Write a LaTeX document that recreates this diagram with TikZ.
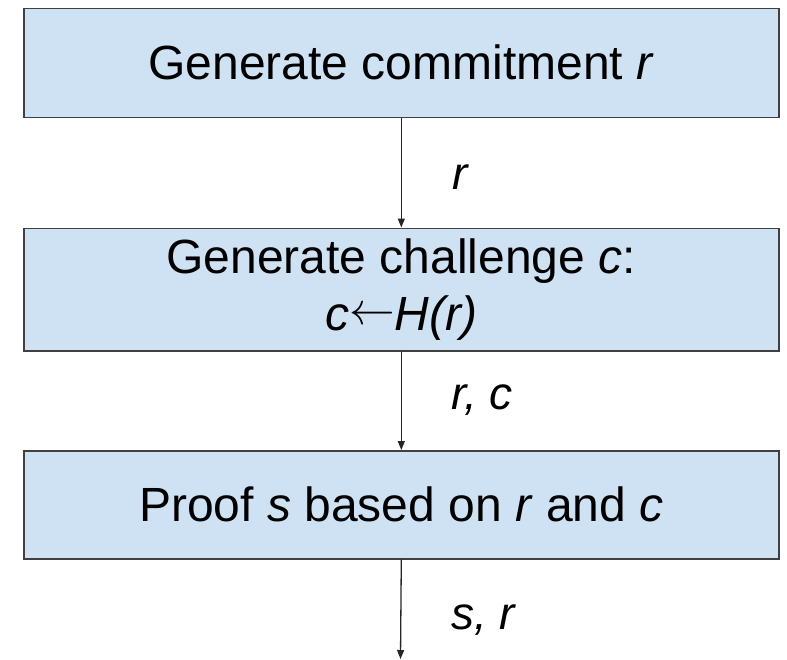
\documentclass[tikz,border=0pt]{standalone}
\usepackage{fontspec}
\usepackage{graphicx}
\setmainfont{Liberation Sans}
\usetikzlibrary{arrows.meta}
\newcommand{\longleft}{\raisebox{0.12em}{\resizebox{0.95em}{!}{$\leftarrow$}}}
\begin{document}
\begin{tikzpicture}[x=1pt,y=-1pt,
  stepbox/.style={draw=black!75,line width=1.6pt,fill={rgb,255:red,207;green,226;blue,243},minimum width=755pt,anchor=north west,inner sep=0pt,align=center,font=\fontsize{48}{57}\selectfont},
  flow/.style={draw=black!85,line width=1.3pt,-{Triangle[length=9pt,width=7pt]}},
  lbl/.style={font=\fontsize{46}{50}\selectfont\itshape}]
\useasboundingbox (0,0) rectangle (787,659);
\node[stepbox,minimum height=109pt] (b1) at (23,7.5) {Generate commitment \textit{r}};
\node[stepbox,minimum height=122.5pt] (b2) at (23,227.5) {Generate challenge \textit{c}:\\\textit{c}\longleft\textit{H(r)}};
\node[stepbox,minimum height=108pt] (b3) at (23,450) {Proof \textit{s} based on \textit{r} and \textit{c}};
\coordinate (end) at (400.5,659);
\draw[flow] (b1.south) -- (b2.north);
\draw[flow] (b2.south) -- (b3.north);
\draw[flow] (b3.south) -- (end);
\node[lbl] (l1) at (460,177) {r};
\node[lbl] (l2) at (482,400) {r, c};
\node[lbl] (l3) at (483,620) {s, r};
\end{tikzpicture}
\end{document}
